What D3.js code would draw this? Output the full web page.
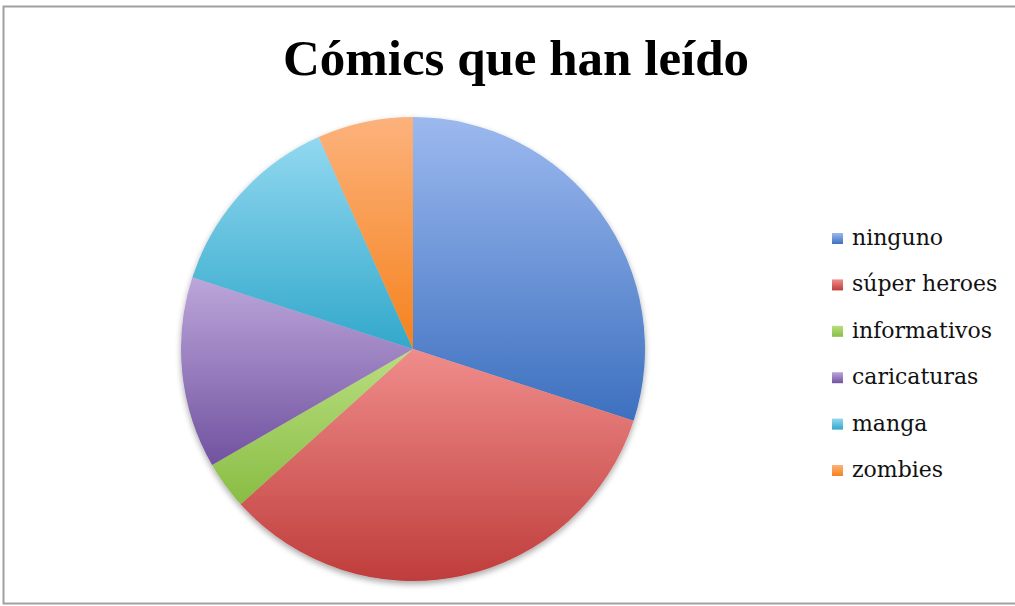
<!DOCTYPE html>
<html><head><meta charset="utf-8">
<script src="https://cdn.jsdelivr.net/npm/d3@7"></script>
<style>body{margin:0;background:#fff}svg{display:block}</style>
</head><body>
<svg id="chart" width="1015" height="606"></svg>
<script>
const title = "Cómics que han leído";
const categories = ["ninguno","súper heroes","informativos","caricaturas","manga","zombies"];
const values = [9,10,1,4,4,2];
const colorsLight = ["#9cb9ef","#ef8d8b","#b9de80","#bca6da","#92d8f0","#fcb27c"];
const colorsDark  = ["#3d70bf","#bf3d3b","#89bd44","#7152a0","#32a8cb","#f5821d"];

const svg = d3.select("#chart");
const W = 1015, H = 606;
svg.append("rect").attr("x",3.5).attr("y",6.5).attr("width",W+10).attr("height",597)
  .attr("fill","#fff").attr("stroke","#a0a0a0").attr("stroke-width",2);

const defs = svg.append("defs");
categories.forEach((c,i)=>{
  const g = defs.append("linearGradient").attr("id","g"+i).attr("x1",0).attr("y1",0).attr("x2",0).attr("y2",1);
  g.append("stop").attr("offset","0%").attr("stop-color",colorsLight[i]);
  g.append("stop").attr("offset","100%").attr("stop-color",colorsDark[i]);
});
const f = defs.append("filter").attr("id","sh").attr("x","-10%").attr("y","-10%").attr("width","120%").attr("height","125%");
f.append("feGaussianBlur").attr("in","SourceAlpha").attr("stdDeviation",3).attr("result","b");
f.append("feOffset").attr("dy",3).attr("result","o");
f.append("feComponentTransfer").append("feFuncA").attr("type","linear").attr("slope",0.35);
const m = f.append("feMerge"); m.append("feMergeNode"); m.append("feMergeNode").attr("in","SourceGraphic");

svg.append("text").attr("x",516).attr("y",75).attr("text-anchor","middle")
  .attr("font-family","Liberation Serif, serif").attr("font-weight","bold").attr("font-size",51)
  .attr("fill","#000").text(title);

const cx = 413, cy = 349, r = 232;
const pie = d3.pie().sort(null).value(d=>d)(values);
const arc = d3.arc().innerRadius(0).outerRadius(r);
const gp = svg.append("g").attr("transform",`translate(${cx},${cy})`).attr("filter","url(#sh)");
gp.selectAll("path").data(pie).join("path")
  .attr("d",arc).attr("fill",(d,i)=>`url(#g${i})`);

const leg = svg.append("g");
const rowY = d3.scalePoint().domain(categories).range([238,470]);
categories.forEach((c,i)=>{
  const y = rowY(c);
  leg.append("rect").attr("x",832).attr("y",y-5).attr("width",11).attr("height",11).attr("fill",`url(#g${i})`);
  leg.append("text").attr("x",852).attr("y",y+7).attr("font-family","DejaVu Serif, serif")
    .attr("font-size",22).attr("fill","#111").text(c);
});
</script>
</body></html>
